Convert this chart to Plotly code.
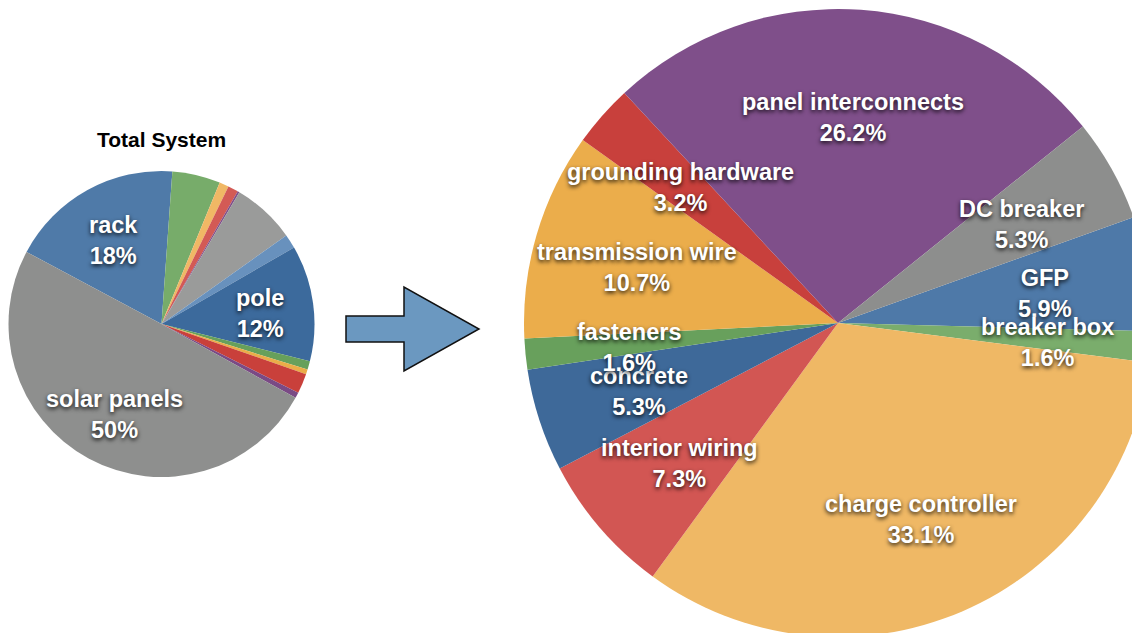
import math
import plotly.graph_objects as go

# ---------------- data ----------------
# Small pie: "Total System" (percent of total), listed clockwise starting at "rack"
total_labels = ["rack", "panel interconnects", "DC breaker", "GFP", "fasteners",
                "charge controller", "interior wiring", "pole", "concrete",
                "breaker box", "transmission wire", "grounding hardware", "solar panels"]
total_values = [18.4, 5.1, 1.0, 1.1, 0.2, 6.7, 1.5, 12.3, 0.9, 0.5, 2.1, 0.6, 50.0]
total_colors = ["#4f7aa8", "#77ac6a", "#f0b865", "#d35a55", "#7f4f8a",
                "#9a9b9a", "#6891bd", "#3c6a9c", "#67a05b", "#eaad48",
                "#c9403b", "#7a4a85", "#8e8f8e"]
total_shown = ["rack", "pole", "solar panels"]

# Big pie: breakdown of the remaining components (percent), clockwise starting at "GFP"
detail_labels = ["GFP", "breaker box", "charge controller", "interior wiring", "concrete",
                 "fasteners", "transmission wire", "grounding hardware",
                 "panel interconnects", "DC breaker"]
detail_values = [5.9, 1.6, 33.1, 7.3, 5.3, 1.6, 10.7, 3.2, 26.2, 5.3]
detail_colors = ["#4e79a8", "#7aad6c", "#efb865", "#d25653", "#3e6999",
                 "#68a05c", "#ebad4b", "#c8403c", "#7f4f8a", "#8d8e8d"]

title_text = "Total System"

# ---------------- layout geometry ----------------
# The page body has an 8px margin, so the figure starts at (8, 8) on screen.
OFF = 8
W, H = 1160, 640  # figure larger than the window: the big pie gets clipped at right/bottom


def sx(px):  # screen x pixel -> paper x
    return (px - OFF) / W


def sy(py):  # screen y pixel -> paper y
    return 1 - (py - OFF) / H


def pie_domain(cx, cy, r):  # screen centre and radius -> pie domain
    return [sx(cx - r), sx(cx + r)], [sy(cy + r), sy(cy - r)]


small_c, small_r = (161.5, 324.0), 153.0
big_c, big_r = (838.0, 323.0), 314.0
small_dom_x, small_dom_y = pie_domain(*small_c, small_r)
big_dom_x, big_dom_y = pie_domain(*big_c, big_r)
small_rot = -61.9
big_rot = 70.3
LABEL_FONT = "Liberation Sans, Arial, sans-serif"

fig = go.Figure()
fig.add_trace(go.Pie(
    labels=total_labels, values=total_values, sort=False, direction="clockwise",
    rotation=small_rot, marker=dict(colors=total_colors, line=dict(width=0)),
    textinfo="none", hoverinfo="label+value", domain=dict(x=small_dom_x, y=small_dom_y),
    showlegend=False))
fig.add_trace(go.Pie(
    labels=detail_labels, values=detail_values, sort=False, direction="clockwise",
    rotation=big_rot, marker=dict(colors=detail_colors, line=dict(width=0)),
    textinfo="none", hoverinfo="label+value", domain=dict(x=big_dom_x, y=big_dom_y),
    showlegend=False))


def label_annotations(labels, values, center, r, rot, k, fmt, shown=None):
    """Place slice labels at fraction k of the radius along each slice's mid-angle."""
    cx, cy = center
    tot = sum(values)
    acc = 0.0
    anns = []
    for lab, v in zip(labels, values):
        mid = rot + (acc + v / 2) / tot * 360.0
        acc += v
        if shown is not None and lab not in shown:
            continue
        a = math.radians(mid)
        px = cx + k * r * math.sin(a)
        py = cy - k * r * math.cos(a)
        anns.append(dict(
            x=sx(px), y=sy(py), xref="paper", yref="paper",
            xanchor="center", yanchor="middle", showarrow=False, yshift=-3.5,
            text=f"{lab}<br>{fmt(v)}",
            font=dict(family=LABEL_FONT, size=23.5, color="white", weight="bold",
                      shadow="0px 2px 4px rgba(0,0,0,0.85)")))
    return anns


anns = []
anns += label_annotations(total_labels, total_values, small_c, small_r,
                          small_rot, 0.647, lambda v: f"{v:.0f}%", total_shown)
anns += label_annotations(detail_labels, detail_values, big_c, big_r,
                          big_rot, 0.668, lambda v: f"{v:.1f}%")
anns.append(dict(x=sx(161), y=sy(139), xref="paper", yref="paper",
                 xanchor="center", yanchor="middle", showarrow=False,
                 text=title_text,
                 font=dict(family=LABEL_FONT, size=21, color="black", weight="bold")))

# block arrow between the pies (screen-pixel outline converted to paper coordinates)
arrow_px = [(346, 316), (404, 316), (404, 287), (479, 329), (404, 371), (404, 342), (346, 342)]
path = "M " + " L ".join(f"{sx(x):.5f},{sy(y):.5f}" for x, y in arrow_px) + " Z"

fig.update_layout(
    width=W, height=H,
    margin=dict(l=0, r=0, t=0, b=0),
    paper_bgcolor="white", plot_bgcolor="white",
    showlegend=False,
    annotations=anns,
    shapes=[dict(type="path", xref="paper", yref="paper", path=path,
                 fillcolor="#6b98c0", line=dict(color="#111111", width=1.5))],
)

fig.write_html("out.html")
